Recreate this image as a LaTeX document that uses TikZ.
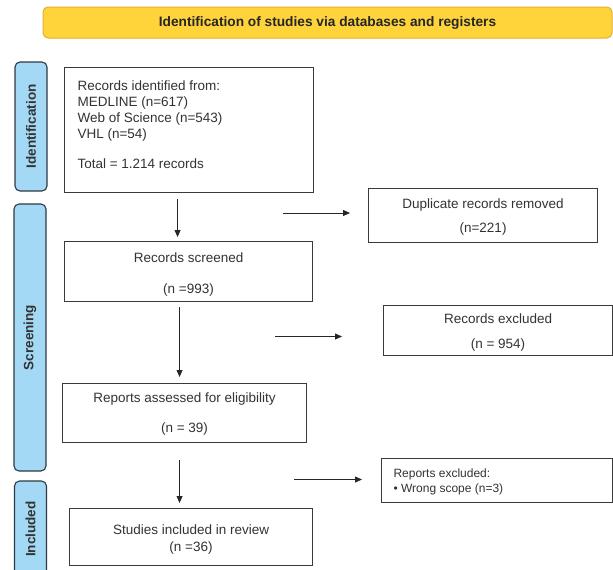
\documentclass[tikz,border=0pt]{standalone}
\usepackage{fontspec}
\setmainfont{Liberation Sans}
\usetikzlibrary{arrows.meta}

\definecolor{boxline}{HTML}{3A3A3A}
\definecolor{textgray}{HTML}{333333}
\definecolor{bannerfill}{HTML}{FFD43B}
\definecolor{bannerline}{HTML}{E6AE2E}
\definecolor{phasefill}{HTML}{A3D9F4}
\definecolor{phaseline}{HTML}{2E3846}

% lines of a box, moved up or down by #1
\newcommand{\boxlines}[3]{\raisebox{#1}[\height][\depth]{\parbox{#2}{\centering #3}}}

\begin{document}
\begin{tikzpicture}[
    x=1pt, y=-1pt,
    box/.style={draw=boxline, line width=1.1pt, fill=white, inner sep=0pt,
                anchor=north west, text=textgray,
                font=\fontsize{13.5}{16}\selectfont},
    phase/.style={draw=phaseline, fill=phasefill, line width=1.1pt,
                  rounded corners=5pt, inner sep=0pt, rotate=90,
                  minimum height=32pt, text=textgray,
                  font=\fontsize{13.5}{16}\selectfont\bfseries},
    banner/.style={draw=bannerline, fill=bannerfill, line width=1pt,
                   rounded corners=5pt, inner sep=0pt, text=black!85,
                   font=\fontsize{13.7}{16}\selectfont\bfseries},
    flow/.style={draw=black!85, line width=0.8pt,
                 -{Triangle[length=7pt, width=6pt]}},
]
\useasboundingbox (0,0) rectangle (613,570);

% --- TITLE ---
\node[banner, minimum width=569pt, minimum height=31pt] (title) at (327.5,22.5)
    {Identification of studies via databases and registers};

% --- PHASES ---
\node[phase, minimum width=129pt] (identphase) at (31,126.5) {Identification};
\node[phase, minimum width=267pt] (screenphase) at (30,337.5) {Screening};
\node[phase, minimum width=96pt] (inclphase) at (30.5,529) {Included};

% --- IDENTIFICATION ---
\node[box, minimum width=249pt, minimum height=125pt] (identified) at (64,67)
    {\boxlines{5pt}{223pt}{\raggedright Records identified from:\\ MEDLINE (n=617)\\
     Web of Science (n=543)\\ VHL (n=54)\\[14pt] Total = 1.214 records}};
\node[box, minimum width=229pt, minimum height=54pt] (duplicates) at (368,188)
    {\boxlines{-1pt}{220pt}{Duplicate records removed\\[8pt] (n=221)}};

% --- SCREENING ---
\node[box, minimum width=248pt, minimum height=60pt] (screened) at (64,241)
    {\boxlines{-3pt}{240pt}{Records screened\\[15pt] (n =993)}};
\node[box, minimum width=229pt, minimum height=50pt] (excluded) at (383,305)
    {\boxlines{-2pt}{220pt}{Records excluded\\[9pt] (n = 954)}};
\node[box, minimum width=244pt, minimum height=59pt] (assessed) at (62,383)
    {\boxlines{-1pt}{236pt}{Reports assessed for eligibility\\[14pt] (n = 39)}};
\node[box, minimum width=231pt, minimum height=44pt,
      font=\fontsize{12}{15}\selectfont] (reportsout) at (381,458)
    {\boxlines{-1pt}{207pt}{\raggedright Reports excluded:\\ \textbullet\ Wrong scope (n=3)}};

% --- INCLUDED ---
\node[box, minimum width=243pt, minimum height=57pt] (included) at (69,508)
    {\boxlines{-2.5pt}{235pt}{Studies included in review\\[1pt] (n =36)}};

% down arrows
\draw[flow, shorten <=6pt, shorten >=4pt]
    ([xshift=-11.5pt]identified.south) -- ([xshift=-11.5pt]identified.south |- screened.north);
\draw[flow, shorten <=5pt, shorten >=6pt]
    ([xshift=-9pt]screened.south) -- ([xshift=-9pt]screened.south |- assessed.north);
\draw[flow, shorten <=17pt, shorten >=5pt]
    ([xshift=-5pt]assessed.south) -- ([xshift=-5pt]assessed.south |- included.north);

% side arrows
\coordinate (dupfrom) at (283,213);
\coordinate (exclfrom) at (275,336.5);
\coordinate (repfrom) at (294,479.5);
\draw[flow, shorten >=18pt] (dupfrom) -- (dupfrom -| duplicates.west);
\draw[flow, shorten >=41pt] (exclfrom) -- (exclfrom -| excluded.west);
\draw[flow, shorten >=19pt] (repfrom) -- (repfrom -| reportsout.west);

\end{tikzpicture}
\end{document}
